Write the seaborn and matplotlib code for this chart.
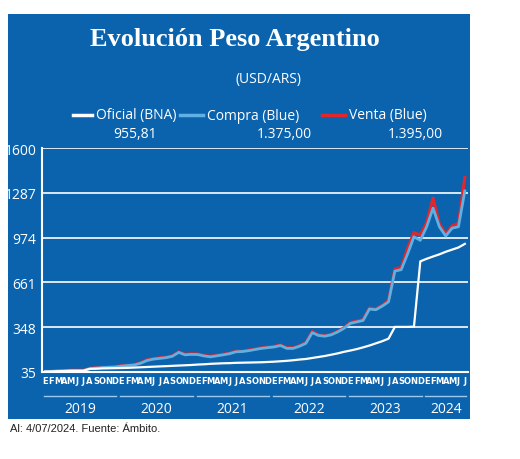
import matplotlib
matplotlib.use("Agg")
import matplotlib.pyplot as plt
import seaborn as sns
import pandas as pd
import numpy as np
from matplotlib.patches import Rectangle

months = ["E","F","M","A","M","J","J","A","S","O","N","D"]
years = ["2019","2020","2021","2022","2023","2024"]
oficial = [38,39,41,42,44,44,44,57,58,60,61,62,
           63,64,66,68,70,72,74,76,78,80,82,84,
           87,89,92,94,96,97,99,100,101,102,103,105,
           107,110,113,117,122,126,133,140,147,156,165,176,
           185,195,207,220,235,250,268,350,350,350,352,808,
           826,842,857,875,890,905,930]
compra = [38,39,42,43,45,45,45,58,62,66,68,70,
          76,80,84,96,115,125,130,135,145,172,155,158,
          157,147,141,148,155,163,176,178,184,192,200,205,
          210,220,200,200,215,235,310,290,285,295,315,340,
          375,385,395,475,470,495,525,740,750,860,980,955,
          1050,1180,1050,985,1040,1050,1300]
venta = [40,41,44,45,47,47,47,61,64,68,70,72,
         79,83,87,99,120,128,134,139,148,176,159,162,
         161,151,145,152,159,167,180,182,188,196,204,209,
         214,224,204,204,219,240,318,294,289,299,319,344,
         380,391,400,482,476,500,535,755,765,900,1010,990,
         1080,1250,1070,1000,1055,1075,1395]
yticks = [35,348,661,974,1287,1600]

n = len(oficial)
df = pd.DataFrame({"mes": np.arange(n), "Oficial": oficial, "Compra": compra, "Venta": venta})

BLUE = "#0b63ad"
W, H = 520, 460
fig = plt.figure(figsize=(5.2, 4.6), dpi=100)
fig.patch.set_facecolor("white")
fig.add_artist(Rectangle((8/W, 40/H), 462/W, 405/H, transform=fig.transFigure,
                         facecolor=BLUE, edgecolor="none", zorder=-5))
ax = fig.add_axes([42/W, 87/H, 426/W, 224/H])
ax.set_zorder(1)
ax.set_facecolor(BLUE)
sns.lineplot(data=df, x="mes", y="Venta", ax=ax, color="#e3262b", lw=2.2)
sns.lineplot(data=df, x="mes", y="Compra", ax=ax, color="#5fb0e3", lw=2.0)
sns.lineplot(data=df, x="mes", y="Oficial", ax=ax, color="white", lw=1.6)
ax.set_ylim(35, 1600)
ax.set_xlim(-0.5, n - 0.5)
ax.set_yticks(yticks)
ax.set_yticklabels([str(t) for t in yticks], color="white", fontsize=10, family="Open Sans")
ax.tick_params(axis="y", length=0, pad=4)
for t in yticks[1:]:
    ax.axhline(t, color="white", lw=1.2, zorder=0)
ax.set_xticks(np.arange(n))
ax.set_xticklabels([months[i % 12] for i in range(n)], color="white", fontsize=6,
                   family="Liberation Sans Narrow", fontweight="bold")
ax.tick_params(axis="x", length=0, pad=3)
ax.set_xlabel(""); ax.set_ylabel("")
for s in ["top", "right"]:
    ax.spines[s].set_visible(False)
for s in ["left", "bottom"]:
    ax.spines[s].set_color("white"); ax.spines[s].set_linewidth(1.5)

for i, y in enumerate(years):
    start = i * 12
    end = min(start + 11, n - 1)
    ax.plot([start - 0.2, end + 0.2], [-0.105, -0.105], transform=ax.get_xaxis_transform(),
            color="#9cc9ee", lw=1, clip_on=False)
    ax.text((start + end) / 2, -0.165, y, transform=ax.get_xaxis_transform(), ha="center",
            va="center", color="white", fontsize=10, family="Open Sans")

fig.text(235/W, 1 - 40/H, "Evolución Peso Argentino", color="white", fontsize=19, fontweight="bold",
         ha="center", va="center", family="Liberation Serif")
fig.text(268/W, 1 - 80/H, "(USD/ARS)", color="white", fontsize=10, ha="center", va="center",
         family="Open Sans")
leg = [("Oficial (BNA)", "955,81", "white", 73, 92, 135),
       ("Compra (Blue)", "1.375,00", "#5fb0e3", 180, 203, 284),
       ("Venta (Blue)", "1.395,00", "#e3262b", 322, 345, 415)]
for lab, val, c, x0, x1, xv in leg:
    fig.add_artist(plt.Line2D([x0/W, x1/W], [1 - 116/H, 1 - 116/H], color=c, lw=2.5,
                              transform=fig.transFigure))
    fig.text((x1 + 4)/W, 1 - 116/H, lab, color="white", fontsize=10, va="center", family="Open Sans")
    fig.text(xv/W, 1 - 134/H, val, color="white", fontsize=10, va="center", ha="center",
             family="Open Sans")
fig.text(0.02, 1 - 429/H, "Al: 4/07/2024. Fuente: Ámbito.", fontsize=8, color="#222222", va="center",
         family="Liberation Sans")
fig.savefig("out.png", dpi=100, facecolor="white")
